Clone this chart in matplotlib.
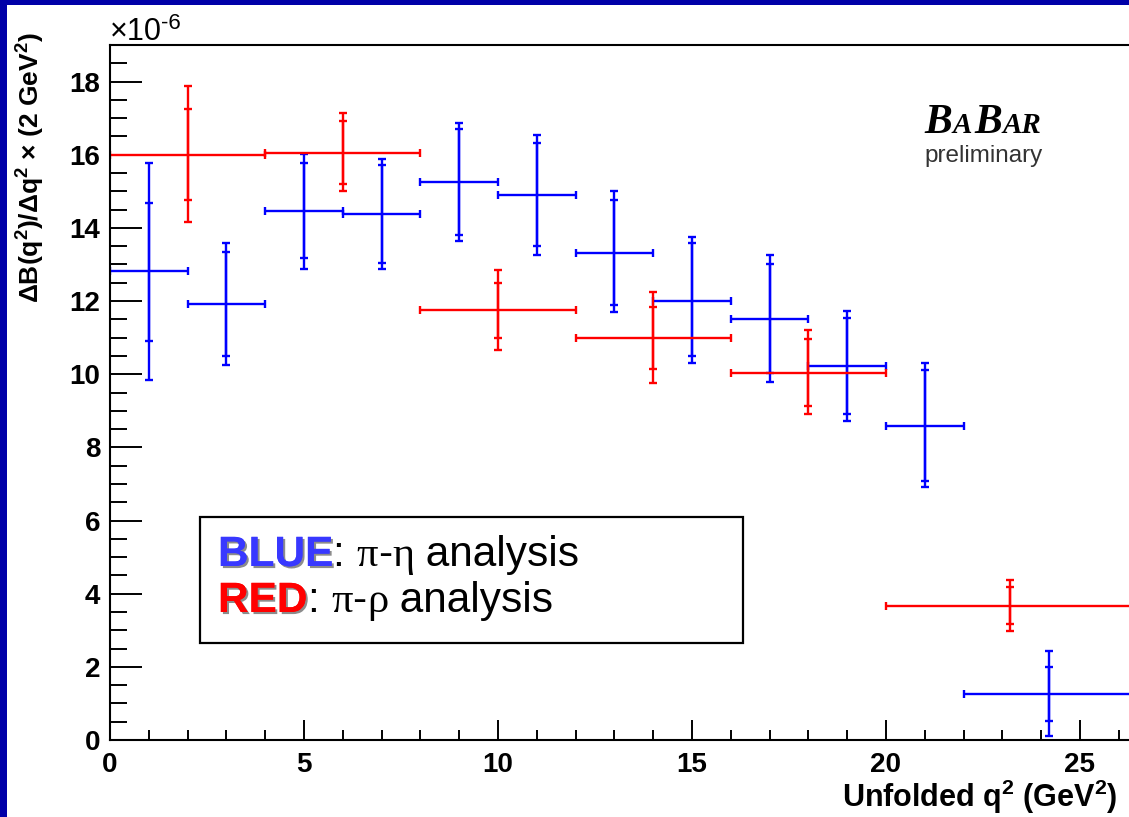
import numpy as np
import matplotlib
matplotlib.use("Agg")
import matplotlib.pyplot as plt
import matplotlib.patheffects as pe
from matplotlib.patches import Rectangle
from matplotlib.ticker import MultipleLocator
from matplotlib.offsetbox import TextArea, HPacker, AnnotationBbox

plt.rcParams["font.family"] = ["Liberation Sans", "DejaVu Sans"]
plt.rcParams["font.weight"] = "bold"
plt.rcParams["axes.labelweight"] = "bold"
plt.rcParams["mathtext.fontset"] = "custom"
plt.rcParams["mathtext.rm"] = "Liberation Sans:bold"
plt.rcParams["mathtext.it"] = "Liberation Sans:bold"
plt.rcParams["mathtext.bf"] = "Liberation Sans:bold"
plt.rcParams["mathtext.default"] = "rm"

# Differential branching fraction, units of 1e-6 per 2 GeV^2
# pi-eta analysis, 2 GeV^2 bins (last bin 22-26.4)
eta_q2 = [1, 3, 5, 7, 9, 11, 13, 15, 17, 19, 21, 24.2]
eta_half_width = [1, 1, 1, 1, 1, 1, 1, 1, 1, 1, 1, 2.2]
eta_value = [12.81, 11.92, 14.45, 14.37, 15.25, 14.90, 13.32, 12.01, 11.52, 10.22, 8.59, 1.27]
eta_stat_low = [10.92, 10.51, 13.17, 13.04, 13.81, 13.50, 11.90, 10.50, 10.04, 8.90, 7.08, 0.53]
eta_stat_high = [14.68, 13.34, 15.77, 15.71, 16.69, 16.31, 14.77, 13.60, 13.00, 11.54, 10.12, 1.99]
eta_total_low = [9.83, 10.25, 12.88, 12.88, 13.65, 13.26, 11.69, 10.31, 9.79, 8.72, 6.91, 0.12]
eta_total_high = [15.78, 13.60, 16.02, 15.87, 16.87, 16.55, 15.00, 13.76, 13.27, 11.73, 10.32, 2.43]

# pi-rho analysis, 4 GeV^2 bins (last bin 20-26.4)
rho_q2 = [2, 6, 10, 14, 18, 23.2]
rho_half_width = [2, 2, 2, 2, 2, 3.2]
rho_value = [16.00, 16.04, 11.75, 10.99, 10.04, 3.67]
rho_stat_low = [14.76, 15.21, 10.99, 10.15, 9.14, 3.16]
rho_stat_high = [17.26, 16.91, 12.49, 11.84, 10.95, 4.18]
rho_total_low = [14.15, 15.00, 10.65, 9.75, 8.90, 2.98]
rho_total_high = [17.88, 17.13, 12.85, 12.25, 11.20, 4.37]

x_ticks = [0, 5, 10, 15, 20, 25]
y_ticks = [0, 2, 4, 6, 8, 10, 12, 14, 16, 18]

W, H = 1129, 817
fig = plt.figure(figsize=(W / 100, H / 100), dpi=100)
fig.patch.set_facecolor("#0000a8")
fig.add_artist(Rectangle((7 / W, 0), 1, 1 - 5 / H, transform=fig.transFigure,
                         facecolor="white", edgecolor="none", zorder=-10))

ax = fig.add_axes([110 / W, 77 / H, 1024.3 / W, 695 / H])
ax.set_xlim(0, 26.4)
ax.set_ylim(0, 19)


def draw_series(q2, half_width, value, stat_lo, stat_hi, tot_lo, tot_hi, color):
    q2 = np.asarray(q2)
    value = np.asarray(value)
    kw = dict(fmt="none", ecolor=color, elinewidth=1.7, capsize=2.7, capthick=1.7)
    ax.errorbar(q2, value, xerr=half_width,
                yerr=[value - np.asarray(tot_lo), np.asarray(tot_hi) - value], **kw)
    ax.errorbar(q2, value,
                yerr=[value - np.asarray(stat_lo), np.asarray(stat_hi) - value], **kw)


draw_series(eta_q2, eta_half_width, eta_value, eta_stat_low, eta_stat_high,
            eta_total_low, eta_total_high, "#0000ff")
draw_series(rho_q2, rho_half_width, rho_value, rho_stat_low, rho_stat_high,
            rho_total_low, rho_total_high, "#ff0000")

# axes frame and ticks
ax.set_xticks(x_ticks)
ax.set_yticks(y_ticks)
ax.xaxis.set_minor_locator(MultipleLocator(1))
ax.yaxis.set_minor_locator(MultipleLocator(0.5))
ax.tick_params(which="both", direction="in", top=False, right=False,
               width=1.4, color="black", labelsize=20)
ax.tick_params(axis="y", which="major", length=23, pad=7)
ax.tick_params(axis="y", which="minor", length=12)
ax.tick_params(axis="x", which="major", length=14.4, pad=9)
ax.tick_params(axis="x", which="minor", length=7.2)
for s in ax.spines.values():
    s.set_linewidth(1.5)

ax.set_ylabel(r"ΔB(q$^{2}$)/Δq$^{2}$ × (2 GeV$^{2}$)", fontsize=19,
              fontweight="bold", loc="top")
ax.yaxis.set_label_coords((47 - 110) / 1024.3, (740 - 32) / 695)
ax.set_xlabel(r"Unfolded q$^{2}$ (GeV$^{2}$)", fontsize=22, fontweight="bold", ha="left")
ax.xaxis.set_label_coords((842 - 110) / 1024.3, -(778 - 740) / 695)

# axis exponent
fig.text(110 / W, 1 - 40 / H, "×10", fontsize=22, fontweight="normal", va="baseline")
fig.text(161 / W, 1 - 29 / H, "-6", fontsize=16, fontweight="normal", va="baseline")

# legend box
fig.add_artist(Rectangle((200 / W, 1 - 643 / H), 543 / W, 126 / H,
                         transform=fig.transFigure, facecolor="white",
                         edgecolor="black", linewidth=1.6, zorder=5))

shadow = [pe.withSimplePatchShadow(offset=(1.5, -1.5), shadow_rgbFace="black", alpha=0.45),
          pe.Normal()]
LEG = 30.5


def legend_line(tag, tag_color, greek):
    sans = dict(size=LEG, weight="normal", color="black")
    serif = dict(size=LEG, weight="normal", color="black", family="Liberation Serif")
    parts = [
        TextArea(tag, textprops=dict(size=LEG, weight="bold", color=tag_color,
                                     path_effects=shadow)),
        TextArea(": ", textprops=sans),
        TextArea("π", textprops=serif),
        TextArea("-", textprops=sans),
        TextArea(greek, textprops=serif),
        TextArea(" analysis", textprops=sans),
    ]
    return HPacker(children=parts, align="baseline", pad=0, sep=0)


for line, y_top in [(legend_line("BLUE", "#3838ff", "η"), 535),
                    (legend_line("RED", "#ff0000", "ρ"), 581)]:
    ab = AnnotationBbox(line, (218, H - y_top), xycoords="figure pixels",
                        box_alignment=(0, 1), frameon=False, pad=0)
    ab.set_zorder(6)
    fig.add_artist(ab)

# experiment logo
logo_font = dict(family="Liberation Serif", weight="bold", style="italic", color="black")
logo = HPacker(children=[
    TextArea("B", textprops=dict(size=30, **logo_font)),
    TextArea("A", textprops=dict(size=21, **logo_font)),
    TextArea(" ", textprops=dict(size=8, **logo_font)),
    TextArea("B", textprops=dict(size=30, **logo_font)),
    TextArea("AR", textprops=dict(size=21, **logo_font)),
], align="baseline", pad=0, sep=0)
ab = AnnotationBbox(logo, (983, H - 142), xycoords="figure pixels",
                    box_alignment=(0.5, 0), frameon=False, pad=0)
ab.set_zorder(6)
fig.add_artist(ab)
fig.text(984 / W, 1 - 162 / H, "preliminary", fontsize=17.5, fontweight="normal",
         color="#333333", ha="center", va="baseline")

fig.savefig("out.png", dpi=100, facecolor=fig.get_facecolor())
